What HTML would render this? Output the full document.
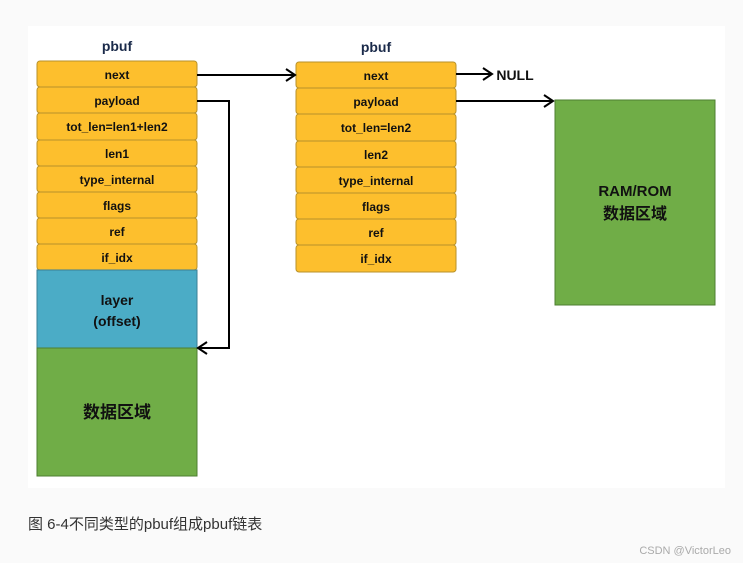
<!DOCTYPE html>
<html><head><meta charset="utf-8"><style>
body{margin:0;width:743px;height:563px;background:#fafafa;overflow:hidden;font-family:"Liberation Sans","Noto Sans CJK SC",sans-serif;}
</style></head><body>
<svg width="743" height="563" style="position:absolute;left:0;top:0" font-family="Liberation Sans, Noto Sans CJK SC, sans-serif">
<rect x="28" y="26" width="697" height="462" fill="#fff"/>
<g font-size="12" font-weight="bold" fill="#000" text-anchor="middle">
<text x="117" y="51" font-size="14" fill="#1a2a4a">pbuf</text>
<text x="376" y="52" font-size="14" fill="#1a2a4a">pbuf</text>
</g>
<g stroke="#b8922a" stroke-width="1" fill="#fdbf2d">
<rect x="37" y="61" width="160" height="26" rx="3"/>
<rect x="37" y="87" width="160" height="26" rx="3"/>
<rect x="37" y="113" width="160" height="27" rx="3"/>
<rect x="37" y="140" width="160" height="26" rx="3"/>
<rect x="37" y="166" width="160" height="26" rx="3"/>
<rect x="37" y="192" width="160" height="26" rx="3"/>
<rect x="37" y="218" width="160" height="26" rx="3"/>
<rect x="37" y="244" width="160" height="26" rx="3"/>
<rect x="296" y="62" width="160" height="26" rx="3"/>
<rect x="296" y="88" width="160" height="26" rx="3"/>
<rect x="296" y="114" width="160" height="27" rx="3"/>
<rect x="296" y="141" width="160" height="26" rx="3"/>
<rect x="296" y="167" width="160" height="26" rx="3"/>
<rect x="296" y="193" width="160" height="26" rx="3"/>
<rect x="296" y="219" width="160" height="26" rx="3"/>
<rect x="296" y="245" width="160" height="27" rx="3"/>
</g>
<rect x="37" y="270" width="160" height="78" fill="#4bacc6" stroke="#3a7f96"/>
<rect x="37" y="348" width="160" height="128" fill="#70ad47" stroke="#4e7f30"/>
<rect x="555" y="100" width="160" height="205" fill="#70ad47" stroke="#4e7f30"/>
<g font-size="12" font-weight="bold" text-anchor="middle" fill="#111">
<text x="117" y="79">next</text><text x="117" y="105">payload</text><text x="117" y="131">tot_len=len1+len2</text>
<text x="117" y="158">len1</text><text x="117" y="184">type_internal</text><text x="117" y="210">flags</text>
<text x="117" y="236">ref</text><text x="117" y="262">if_idx</text>
<text x="376" y="80">next</text><text x="376" y="106">payload</text><text x="376" y="132">tot_len=len2</text>
<text x="376" y="159">len2</text><text x="376" y="185">type_internal</text><text x="376" y="211">flags</text>
<text x="376" y="237">ref</text><text x="376" y="263">if_idx</text>
<text x="117" y="305" font-size="14">layer</text><text x="117" y="326" font-size="14">(offset)</text>
<text x="117" y="418" font-size="17">数据区域</text>
<text x="635" y="196" font-size="15">RAM/ROM</text><text x="635" y="219" font-size="16">数据区域</text>
<text x="515" y="80" font-size="14">NULL</text>
</g>
<g stroke="#000" stroke-width="2" fill="none">
<path d="M197 75H295M286 69L295 75L286 81"/>
<path d="M197 101H229V348H198M207 342L198 348L207 354"/>
<path d="M456 74H492M483 68L492 74L483 80"/>
<path d="M456 101H553M544 95L553 101L544 107"/>
</g>
<text x="28" y="529" font-size="15" fill="#333">图 6-4不同类型的pbuf组成pbuf链表</text>
<text x="731" y="554" font-size="11" fill="#aaa" text-anchor="end">CSDN @VictorLeo</text>
</svg>
</body></html>
